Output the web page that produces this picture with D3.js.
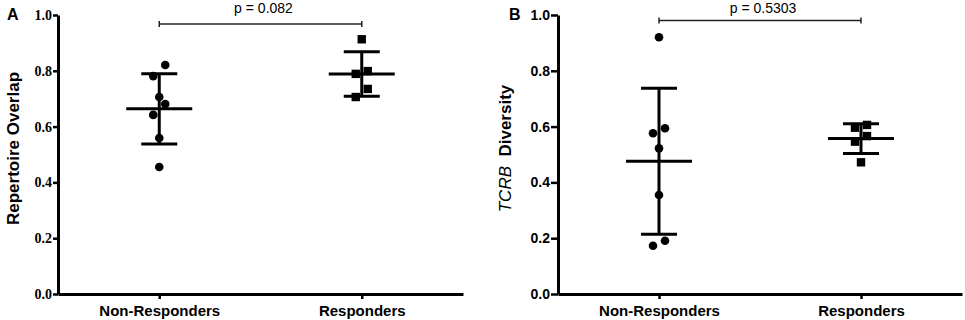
<!DOCTYPE html>
<meta charset="utf-8">
<style>
body {
  margin: 0;
  padding: 0;
  background-color: white;
}
svg text {
  fill: #000;
}
</style>
<script src="https://d3js.org/d3.v7.min.js"></script>

<div id="my_dataviz"></div>

<script>

// values
const categories = ["Non-Responders", "Responders"];
const overlapNon = [0.821, 0.781, 0.706, 0.681, 0.642, 0.559, 0.455];
const overlapResp = [0.913, 0.799, 0.789, 0.735, 0.706];
const diversityNon = [0.920, 0.594, 0.576, 0.522, 0.355, 0.191, 0.173];
const diversityResp = [0.606, 0.596, 0.566, 0.546, 0.472];
const yTicks = [0, 0.2, 0.4, 0.6, 0.8, 1.0];
const pLabels = ["p = 0.082", "p = 0.5303"];

const width = 965, height = 320;
const plotTop = 15, plotBottom = 294;

const svg = d3.select("#my_dataviz")
  .append("svg")
    .attr("width", width)
    .attr("height", height);

// panel layout
const panels = [
  {letter: "A", left: 58, right: 463, groups: [overlapNon, overlapResp], p: pLabels[0],
   bracketY: 24, tickFont: "'Liberation Serif', 'Times New Roman', serif", tickSize: 5,
   letterX: 7, labelX: 13, label: [{t: "Repertoire Overlap", bold: true}]},
  {letter: "B", left: 558, right: 962, groups: [diversityNon, diversityResp], p: pLabels[1],
   bracketY: 20.5, tickFont: "'Liberation Sans', Arial, sans-serif", tickSize: 7,
   letterX: 509, labelX: 505, label: [{t: "TCRB", italic: true}, {t: "\u00a0\u00a0Diversity", bold: true}]}
];

const y = d3.scaleLinear().domain([0, 1]).range([plotBottom, plotTop]);

// spread overlapping points sideways, like a scatter dot plot
function dodge(vals, gap, step) {
  const order = d3.range(vals.length).sort((a, b) => y(vals[a]) - y(vals[b]));
  const off = new Array(vals.length).fill(0);
  let grp = [];
  const flush = () => {
    const odd = grp.length % 2 === 1;
    grp.forEach((k, j) => {
      let n = odd ? j : j + 1;
      off[k] = n === 0 ? 0 : (n % 2 === 1 ? step : -step);
    });
    grp = [];
  };
  order.forEach((k, i) => {
    if (i > 0 && y(vals[k]) - y(vals[order[i - 1]]) > gap) flush();
    grp.push(k);
  });
  flush();
  return off;
}

panels.forEach(function(pn) {
  const g = svg.append("g");

  const x = d3.scalePoint()
    .domain(categories)
    .range([pn.left, pn.right])
    .padding(0.5);

  // Y axis
  const ya = g.append("g")
    .attr("transform", `translate(${pn.left},0)`)
    .call(d3.axisLeft(y).tickValues(yTicks).tickFormat(d3.format(".1f"))
      .tickSize(pn.tickSize).tickSizeOuter(0).tickPadding(1));
  ya.select(".domain").attr("stroke", "#000").attr("stroke-width", 3);
  ya.selectAll(".tick line").attr("stroke", "#000").attr("stroke-width", 2.5);
  ya.selectAll(".tick text")
    .attr("font-family", pn.tickFont)
    .attr("font-weight", "bold")
    .attr("font-size", 14)
    .attr("fill", "#000");

  // X axis
  const xa = g.append("g")
    .attr("transform", `translate(0,${plotBottom})`)
    .call(d3.axisBottom(x).tickSize(5).tickSizeOuter(0).tickPadding(6));
  xa.select(".domain").attr("stroke", "#000").attr("stroke-width", 3);
  xa.selectAll(".tick line").attr("stroke", "#000").attr("stroke-width", 2.5);
  xa.selectAll(".tick text")
    .attr("font-family", "'Liberation Sans', Arial, sans-serif")
    .attr("font-weight", "bold")
    .attr("font-size", 15)
    .attr("fill", "#000");

  // panel letter
  g.append("text")
    .attr("x", pn.letterX)
    .attr("y", 20)
    .attr("font-family", "'Liberation Sans', Arial, sans-serif")
    .attr("font-weight", "bold")
    .attr("font-size", 16)
    .text(pn.letter);

  // y label
  const yl = g.append("text")
    .attr("transform", `translate(${pn.labelX},${(plotTop + plotBottom) / 2 - 6}) rotate(-90)`)
    .attr("text-anchor", "middle")
    .attr("dy", "0.35em")
    .attr("font-family", "'Liberation Sans', Arial, sans-serif")
    .attr("font-size", 17);
  pn.label.forEach(function(s) {
    yl.append("tspan")
      .attr("font-weight", s.bold ? "bold" : "normal")
      .attr("font-style", s.italic ? "italic" : "normal")
      .text(s.t);
  });

  // significance bracket
  const x0 = x(categories[0]), x1 = x(categories[1]);
  const br = g.append("g").attr("stroke", "#222").attr("stroke-width", 1.5);
  br.append("line").attr("x1", x0).attr("x2", x1).attr("y1", pn.bracketY).attr("y2", pn.bracketY);
  [x0, x1].forEach(function(xx) {
    br.append("line").attr("x1", xx).attr("x2", xx)
      .attr("y1", pn.bracketY - 3).attr("y2", pn.bracketY + 3);
  });
  g.append("text")
    .attr("x", (x0 + x1) / 2 + 3)
    .attr("y", 13)
    .attr("text-anchor", "middle")
    .attr("font-family", "'Liberation Sans', Arial, sans-serif")
    .attr("font-size", 14)
    .text(pn.p);

  // mean +/- SD bars and points
  pn.groups.forEach(function(vals, gi) {
    const cx = x(categories[gi]);
    const m = d3.mean(vals), sd = d3.deviation(vals);
    const eb = g.append("g").attr("stroke", "#000").attr("stroke-width", 3);
    eb.append("line").attr("x1", cx).attr("x2", cx).attr("y1", y(m + sd)).attr("y2", y(m - sd));
    eb.append("line").attr("x1", cx - 33).attr("x2", cx + 33).attr("y1", y(m)).attr("y2", y(m));
    [m + sd, m - sd].forEach(function(v) {
      eb.append("line").attr("x1", cx - 18).attr("x2", cx + 18).attr("y1", y(v)).attr("y2", y(v));
    });

    const off = dodge(vals, 12, 6);
    if (gi === 0) {
      g.selectAll(null)
        .data(vals)
        .join("circle")
          .attr("cx", (d, i) => cx + off[i])
          .attr("cy", d => y(d))
          .attr("r", 4.3)
          .attr("fill", "#000");
    } else {
      g.selectAll(null)
        .data(vals)
        .join("rect")
          .attr("x", (d, i) => cx + off[i] - 4.2)
          .attr("y", d => y(d) - 4.2)
          .attr("width", 8.4)
          .attr("height", 8.4)
          .attr("fill", "#000");
    }
  });
});

</script>
